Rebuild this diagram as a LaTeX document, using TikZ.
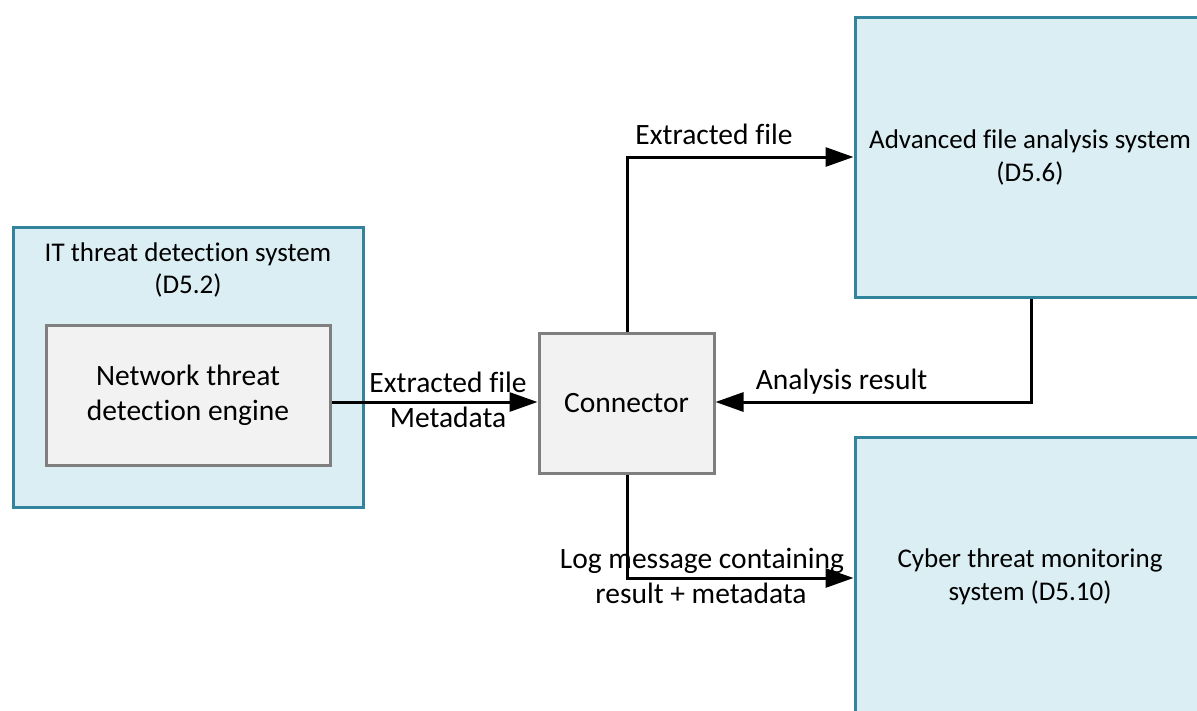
\documentclass[tikz,border=0pt]{standalone}
\usepackage{fontspec}
\setmainfont[Ligatures={NoCommon}]{Carlito}
\usetikzlibrary{arrows.meta}

\definecolor{sysfill}{HTML}{DAEEF3}
\definecolor{sysline}{HTML}{31849B}
\definecolor{modfill}{HTML}{F2F2F2}
\definecolor{modline}{HTML}{7F7F7F}

\begin{document}
\begin{tikzpicture}[x=1pt,y=-1pt,
  sysbox/.style={rectangle, draw=sysline, fill=sysfill, line width=3pt,
    inner sep=0pt, align=center, font=\fontsize{27}{33}\selectfont},
  modbox/.style={rectangle, draw=modline, fill=modfill, line width=3pt,
    inner sep=0pt, align=center, font=\fontsize{29.5}{35}\selectfont},
  flow/.style={line width=3pt, -{Triangle[length=28pt,width=19pt]}},
  lbl/.style={inner sep=0pt, anchor=base, font=\fontsize{29.5}{35}\selectfont},
  ttl/.style={inner sep=0pt, anchor=base, font=\fontsize{27}{33}\selectfont}
]
\useasboundingbox (0,0) rectangle (1197,710);
\clip (0,0) rectangle (1197,710);

% IT threat detection system with its engine
\node[sysbox, minimum width=350pt, minimum height=280pt] (its) at (188,367) {};
\node[ttl] (itsA) at (188,261) {IT threat detection system};
\node[ttl] (itsB) at (188,293) {(D5.2)};
\node[modbox, minimum width=284pt, minimum height=140pt] (eng) at (188,395)
  {Network threat\\detection engine};

% Connector in the middle
\node[modbox, minimum width=175pt, minimum height=140pt] (con) at (626.5,403) {Connector};

% Systems on the right (cut at the page edge)
\node[sysbox, minimum width=350pt, minimum height=280pt] (afa) at (1030,157)
  {Advanced file analysis system\\(D5.6)};
\node[sysbox, minimum width=350pt, minimum height=280pt] (ctm) at (1030,577)
  {Cyber threat monitoring\\system (D5.10)};

% Flows
\draw[flow] (eng.east |- 0,402) -- (con.west |- 0,402);
\node[lbl] (l1a) at (448,392) {Extracted file};
\node[lbl] (l1b) at (448,427) {Metadata};

\coordinate (c1) at (627,157);
\draw[flow] (con.north -| c1) -- (c1) -- (afa.west |- c1);
\node[lbl] (l2) at (714,144) {Extracted file};

\coordinate (c2) at (1031,402);
\draw[flow] (afa.south -| c2) -- (c2) -- (con.east |- c2);
\node[lbl] (l3) at (841.5,389) {Analysis result};

\coordinate (c3) at (627,578);
\draw[flow] (con.south -| c3) -- (c3) -- (ctm.west |- c3);
\node[lbl] (l4a) at (702,568) {Log message containing};
\node[lbl] (l4b) at (701,603) {result + metadata};
\end{tikzpicture}
\end{document}
